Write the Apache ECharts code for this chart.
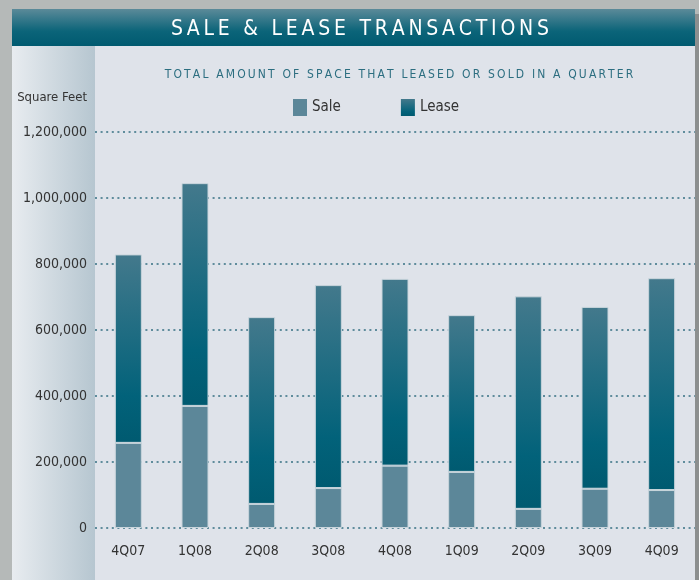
<!DOCTYPE html>
<html>
<head>
<meta charset="utf-8">
<script src="https://cdn.jsdelivr.net/npm/echarts@6/dist/echarts.min.js"></script>
<style>
  html, body { margin: 0; padding: 0; background: #b5b9b8; }
  #main { width: 699px; height: 580px; }
</style>
</head>
<body>
<div id="main"></div>
<script>
// quarters on the x axis
const quarters = ["4Q07", "1Q08", "2Q08", "3Q08", "4Q08", "1Q09", "2Q09", "3Q09", "4Q09"];
// square feet sold / leased per quarter
const saleValues = [258000, 370000, 73000, 121000, 189000, 170000, 58000, 119000, 115000];
const leaseValues = [571000, 675000, 566000, 615000, 566000, 475000, 644000, 551000, 642000];
const yTicks = [0, 200000, 400000, 600000, 800000, 1000000, 1200000];

const FONT = '"Liberation Sans Narrow", "DejaVu Sans Condensed", sans-serif';
const spaced = (s, gap) => s.split("").join(gap);

const chart = echarts.init(document.getElementById("main"));

const option = {
  backgroundColor: "#b5b9b8",
  animation: false,
  textStyle: { fontFamily: FONT },
  graphic: [
    // left label column
    {
      type: "rect", z: -10, silent: true,
      shape: { x: 12, y: 46, width: 83, height: 534 },
      style: {
        fill: new echarts.graphic.LinearGradient(0, 0, 1, 0, [
          { offset: 0, color: "#e8ecf0" },
          { offset: 1, color: "#b6c6d0" },
        ]),
      },
    },
    // plot panel
    {
      type: "rect", z: -10, silent: true,
      shape: { x: 95, y: 46, width: 600, height: 534 },
      style: { fill: "#dfe3ea" },
    },
    // right shadow
    {
      type: "rect", z: -10, silent: true,
      shape: { x: 695, y: 14, width: 4, height: 566 },
      style: { fill: "#8c8f8f" },
    },
    // title banner
    {
      type: "rect", z: -10, silent: true,
      shape: { x: 12, y: 9, width: 683, height: 37 },
      style: {
        fill: new echarts.graphic.LinearGradient(0, 0, 0, 1, [
          { offset: 0, color: "#5b8a99" },
          { offset: 0.6, color: "#0b6479" },
          { offset: 1, color: "#005a70" },
        ]),
      },
    },
  ],
  title: [
    {
      text: spaced("SALE & LEASE TRANSACTIONS", "\u2009"),
      left: 355,
      top: 14,
      textAlign: "center",
      textStyle: { color: "#ffffff", fontSize: 21, fontWeight: "normal", fontFamily: FONT },
    },
    {
      text: spaced("TOTAL AMOUNT OF SPACE THAT LEASED OR SOLD IN A QUARTER", "\u2009"),
      left: 394,
      top: 64,
      textAlign: "center",
      textStyle: { color: "#2c6e80", fontSize: 12, fontWeight: "normal", fontFamily: FONT },
    },
  ],
  legend: {
    left: 288,
    top: 94,
    itemWidth: 14,
    itemHeight: 17,
    itemGap: 60,
    icon: "rect",
    itemStyle: { borderWidth: 0 },
    textStyle: { color: "#333333", fontSize: 15, fontFamily: FONT },
    data: ["Sale", "Lease"],
  },
  grid: {
    left: 95,
    right: 4,
    top: 132,
    bottom: 52,
  },
  xAxis: {
    type: "category",
    data: quarters,
    axisLine: { show: false },
    axisTick: { show: false },
    axisLabel: { color: "#333333", fontSize: 14, margin: 16, fontFamily: FONT },
  },
  yAxis: {
    type: "value",
    min: 0,
    max: 1200000,
    interval: 200000,
    name: "Square Feet",
    nameLocation: "end",
    nameGap: 28,
    nameTextStyle: { color: "#333333", fontSize: 13, align: "right", padding: [0, 8, 0, 0], fontFamily: FONT },
    axisLine: { show: false },
    axisTick: { show: false },
    axisLabel: {
      color: "#333333",
      fontSize: 14,
      margin: 8,
      fontFamily: FONT,
      formatter: v => (yTicks.includes(v) ? v.toLocaleString("en-US") : ""),
    },
    splitLine: {
      lineStyle: { color: "#5f8c9c", width: 2, type: [2, 3.6] },
    },
  },
  series: [
    {
      name: "Sale",
      type: "bar",
      stack: "total",
      barWidth: 27,
      data: saleValues,
      itemStyle: { color: "#5c8799", borderColor: "#c9d5dc", borderWidth: 1 },
    },
    {
      name: "Lease",
      type: "bar",
      stack: "total",
      barWidth: 27,
      data: leaseValues,
      itemStyle: {
        color: new echarts.graphic.LinearGradient(0, 0, 0, 1, [
          { offset: 0, color: "#43798c" },
          { offset: 0.75, color: "#02627a" },
          { offset: 1, color: "#005a70" },
        ]),
        borderColor: "#c9d5dc",
        borderWidth: 1,
      },
    },
  ],
};

chart.setOption(option);
window.addEventListener("resize", () => chart.resize());
</script>
</body>
</html>
